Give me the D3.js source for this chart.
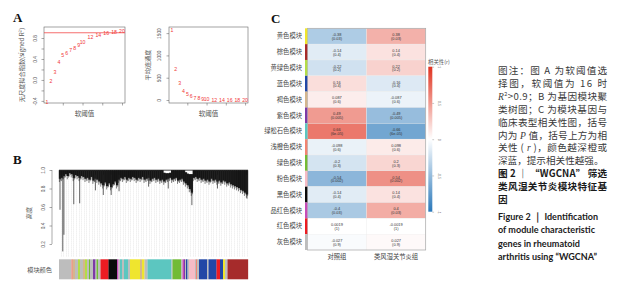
<!DOCTYPE html>
<html><head><meta charset="utf-8">
<script src="https://cdn.jsdelivr.net/npm/d3@7"></script>
<style>body{margin:0;background:#fff;} svg{display:block;}</style>
</head><body>
<svg id="c" width="619" height="300"></svg>
<script>
// ---------------- DATA ----------------
const powers = [1,2,3,4,5,6,7,8,9,10,12,14,16,18,20];
const scaleFreeFit = [-0.42,-0.02,0.15,0.34,0.48,0.52,0.56,0.60,0.66,0.72,0.82,0.86,0.90,0.92,0.94];
const meanConnectivity = [1570,700,388,210,134,80,50,33,23,16,8,5,3,2,1.5];
const fitThreshold = 0.9;
const powerTicks = [5,10,15,20];
const fitTicks = [-0.4,-0.2,0,0.2,0.4,0.6,0.8];
const fitTickLabels = [-0.4,0,0.4,0.8];
const connTicks = [0,500,1000,1500];
const heightTicks = [0.2,0.4,0.6,0.8,1.0];

// dendrogram: bottom height of the dense merge mass, left to right
const dendroMassBottom = [0.87,0.88,0.90,0.92,0.90,0.93,0.92,0.88,0.91,0.90,0.88,0.90,0.89,0.87,0.88,0.86,
  0.89,0.85,0.87,0.86,0.84,0.82,0.80,0.83,0.79,0.82,0.78,0.81,0.84,0.80,0.86,0.88,0.87,0.89,0.86,0.88,
  0.87,0.89,0.88,0.86,0.88,0.87,0.89,0.86,0.87,0.88,0.85,0.87,0.88,0.86,0.87,0.85,0.86,0.84,0.86,0.87,
  0.88,0.86,0.87,0.88,0.85,0.86,0.87,0.84,0.82,0.80,0.76,0.72,0.88,0.89,0.87,0.88,0.86,0.87,0.85,0.86,
  0.84,0.87,0.85,0.86,0.84,0.85,0.83,0.85,0.84,0.82,0.83,0.81,0.80,0.79,0.78,0.77,0.75,0.74,0.72,0.70];
const dendroMassTop = {53:0.97,54:0.965,55:0.965,56:0.97,64:0.975,65:0.96,66:0.955,67:0.955};
// long single branches: [leaf slot, lowest height]
const dendroSpikes = [[0,0.57],[1.4,0.12],[2,0.30],[7,0.63],[10,0.64],[18,0.78],[22,0.73],[26,0.73],
  [30,0.77],[45,0.82],[55,0.80],[67,0.62],[80,0.80],[95,0.69]];

// module colour bar below dendrogram: [module, number of leaves]
const moduleBar = [["grey",125],["salmon",12],["tan",23],["grey",30],["greenyellow",20],["grey",30],["tan",20],
  ["greenyellow",20],["grey",20],["green",10],["grey",30],["purple",25],["grey",10],["green",15],["grey",25],
  ["red",80],["black",85],["magenta",15],["grey",15],["turquoise",20],["grey",20],["turquoise",40],["grey",20],
  ["yellow",100],["tan",20],["yellow",25],["grey",30],["turquoise",240],["grey",10],["green",85],["grey",15],
  ["magenta",15],["purple",10],["grey",10],["blue",15],["grey",15],["pink",60],["grey",10],["salmon",10],
  ["grey",20],["blue",80],["grey",15],["blue",80],["red",35],["blue",30],["yellow",20],["grey",25],["brown",205]];

// module-trait heatmap
const moduleKeys = ["yellow","brown","greenyellow","blue","tan","purple","turquoise","salmon","green","pink","black","magenta","red","grey"];
const moduleNames = ["黄色模块","棕色模块","黄绿色模块","蓝色模块","褐色模块","紫色模块","绿松石色模块","浅橙色模块","绿色模块","粉色模块","黑色模块","品红色模块","红色模块","灰色模块"];
const traits = ["对照组","类风湿关节炎组"];
const corrControl = [-0.38,-0.14,-0.22,0.16,0.087,0.49,0.66,-0.098,-0.2,-0.54,-0.14,-0.4,0.0019,-0.027];
const corrRA      = [0.38,0.14,0.22,-0.16,-0.087,-0.49,-0.66,0.098,0.2,0.54,0.14,0.4,-0.0019,0.027];
const pValues = ["0.03","0.4","0.2","0.4","0.6","0.005","6e-05","0.6","0.3","0.002","0.4","0.03","1","0.9"];
const legendTicks = [-1,-0.5,0,0.5,1];

const moduleColor = {yellow:"#efe52e",brown:"#a62b2b",greenyellow:"#b3dd48",blue:"#2247a6",tan:"#d4b68e",
  purple:"#7d3aa6",turquoise:"#5cc6c0",salmon:"#f28472",green:"#72bb36",pink:"#f6bcc6",black:"#0a0a0a",
  magenta:"#c64cb8",red:"#ec1c22",grey:"#bdbdbd"};

// ---------------- DRAW ----------------
const svg = d3.select("#c");
const CJK = "'Noto Sans CJK SC', sans-serif";
const NUM = "'Liberation Sans', Arial, sans-serif";
const fmt = d => (d===0 ? "0.0" : d3.format(".1f")(d)).replace("−","-");

function panelLabel(t,x,y){
  svg.append("text").attr("x",x).attr("y",y).text(t)
    .attr("font-family","'Liberation Serif', serif").attr("font-weight","bold").attr("font-size",13).attr("fill","#111");
}
function rotLeftAxis(g, scale, ticks, labelFn, dist, fs){
  const ax = d3.axisLeft(scale).tickValues(ticks).tickSize(2.5).tickFormat(labelFn);
  g.call(ax);
  g.select(".domain").remove();
  g.selectAll(".tick line").attr("stroke","#555").attr("stroke-width",0.5);
  g.selectAll(".tick text").attr("transform","rotate(-90)").attr("x",0).attr("y",-dist).attr("dy",0)
    .attr("text-anchor","middle").attr("font-family",NUM).attr("font-size",fs).attr("fill","#555");
}

// ----- Panel A -----
panelLabel("A",13,22);
function thresholdPlot(x0,x1,yDomain,values,ticks,labelFn,labDist,ylab,ylabX,thr){
  const x = d3.scaleLinear().domain([0.24,20.76]).range([x0,x1]);
  const y = d3.scaleLinear().domain(yDomain).range([103,27]);
  const g = svg.append("g");
  g.append("rect").attr("x",x0).attr("y",27).attr("width",x1-x0).attr("height",76)
    .attr("fill","none").attr("stroke","#666").attr("stroke-width",0.6);
  const ya = g.append("g").attr("transform",`translate(${x0},0)`);
  rotLeftAxis(ya,y,ticks,labelFn,labDist,4.8);
  const xa = g.append("g").attr("transform","translate(0,103)")
    .call(d3.axisBottom(x).tickValues(powerTicks).tickSize(2.5).tickFormat(""));
  xa.select(".domain").remove();
  xa.selectAll(".tick line").attr("stroke","#555").attr("stroke-width",0.5);
  if (thr!==null){
    g.append("line").attr("x1",x0).attr("x2",x1).attr("y1",y(thr)).attr("y2",y(thr))
      .attr("stroke","#f03030").attr("stroke-width",0.7);
  }
  g.selectAll("text.pt").data(powers).join("text").attr("class","pt")
    .attr("x",(d)=>x(d)).attr("y",(d,i)=>y(values[i])+1.9).text(d=>d)
    .attr("text-anchor","middle").attr("font-family",NUM).attr("font-size",5.2).attr("fill","#f03838");
  g.append("text").attr("transform",`translate(${ylabX},65) rotate(-90)`).attr("text-anchor","middle")
    .text(ylab).attr("font-family",CJK).attr("font-size",6.2).attr("fill","#555");
  g.append("text").attr("x",(x0+x1)/2).attr("y",116).attr("text-anchor","middle")
    .text("软阈值").attr("font-family",CJK).attr("font-size",6.5).attr("fill","#555");
}
thresholdPlot(44,125,[-0.44,1.01],scaleFreeFit,fitTicks,d=>fitTickLabels.includes(d)?fmt(d):"",6.7,"无尺度拟合指数(signed R²)",24,fitThreshold);
thresholdPlot(169,248,[-67,1637],meanConnectivity,connTicks,d=>d,8.3,"平均连通度",150,null);

// ----- Panel B -----
panelLabel("B",13,164);
(function(){
  const y = d3.scaleLinear().domain([0.2,1.0]).range([244,170]);
  const xs = d3.scaleLinear().domain([0,dendroMassBottom.length-1]).range([60,247]);
  const g = svg.append("g");
  const ya = g.append("g").attr("transform","translate(52,0)");
  rotLeftAxis(ya,y,heightTicks,d=>d3.format(".1f")(d),7.4,4.8);
  g.append("line").attr("x1",52).attr("x2",52).attr("y1",y(0.2)).attr("y2",y(1.0)).attr("stroke","#555").attr("stroke-width",0.5);
  g.append("text").attr("transform",`translate(31,213) rotate(-90)`).attr("text-anchor","middle")
    .text("高度").attr("font-family",CJK).attr("font-size",6.2).attr("fill","#555");
  // guide lines
  const guides = d3.range(0,73);
  const gx = d3.scaleLinear().domain([0,72]).range([60.5,247]);
  g.selectAll("line.guide").data(guides).join("line").attr("class","guide")
    .attr("x1",d=>Math.round(gx(d))+0.5).attr("x2",d=>Math.round(gx(d))+0.5).attr("y1",y(0.95)).attr("y2",257)
    .attr("stroke","#dadada").attr("stroke-width",0.6).attr("stroke-dasharray","1,1");
  // top merge line
  g.append("line").attr("x1",59).attr("x2",248).attr("y1",y(0.998)).attr("y2",y(0.998)).attr("stroke","#222").attr("stroke-width",0.8);
  // dense mass
  dendroMassBottom.forEach((b,i)=>{
    const top = dendroMassTop[i] !== undefined ? dendroMassTop[i] : 0.998;
    g.append("line").attr("x1",xs(i)).attr("x2",xs(i)).attr("y1",y(top)).attr("y2",y(b+0.035))
      .attr("stroke","#111").attr("stroke-width",2.3);
    g.append("line").attr("x1",xs(i)-0.6).attr("x2",xs(i)-0.6).attr("y1",y(top)).attr("y2",y(b))
      .attr("stroke","#1a1a1a").attr("stroke-width",0.55);
    g.append("line").attr("x1",xs(i)+0.6).attr("x2",xs(i)+0.6).attr("y1",y(top)).attr("y2",y(b+0.018))
      .attr("stroke","#2a2a2a").attr("stroke-width",0.5);
  });
  g.selectAll("line.spike").data(dendroSpikes).join("line").attr("class","spike")
    .attr("x1",d=>xs(d[0])).attr("x2",d=>xs(d[0])).attr("y1",y(0.95)).attr("y2",d=>y(d[1]))
    .attr("stroke","#222").attr("stroke-width",0.7);
  // colour bar
  const total = d3.sum(moduleBar,d=>d[1]);
  const bx = d3.scaleLinear().domain([0,total]).range([59,248]);
  let acc = 0;
  const segs = moduleBar.map(d=>{const s={m:d[0],a:acc,b:acc+d[1]}; acc+=d[1]; return s;});
  g.selectAll("rect.mod").data(segs).join("rect").attr("class","mod")
    .attr("x",d=>bx(d.a)).attr("width",d=>bx(d.b)-bx(d.a)+0.15).attr("y",259.3).attr("height",20)
    .attr("fill",d=>moduleColor[d.m]);
  g.append("text").attr("x",52).attr("y",271.5).attr("text-anchor","end").text("模块颜色")
    .attr("font-family",CJK).attr("font-size",6.2).attr("fill","#555");
})();

// ----- Panel C -----
panelLabel("C",271,23);
(function(){
  const x = d3.scaleBand().domain(traits).range([307.3,425.7]);
  const y = d3.scaleBand().domain(moduleNames).range([28.3,250]);
  const col = d3.scaleLinear().domain([-1,0,1]).range(["#2a78ba","#ffffff","#e0321f"]);
  const g = svg.append("g");
  const cells = [];
  moduleNames.forEach((m,i)=>{
    cells.push({m,t:traits[0],r:corrControl[i],p:pValues[i]});
    cells.push({m,t:traits[1],r:corrRA[i],p:pValues[i]});
  });
  g.selectAll("rect.cell").data(cells).join("rect").attr("class","cell")
    .attr("x",d=>x(d.t)).attr("y",d=>y(d.m)).attr("width",x.bandwidth()).attr("height",y.bandwidth())
    .attr("fill",d=>col(d.r)).attr("stroke","#ececec").attr("stroke-width",0.35);
  g.append("rect").attr("x",307.3).attr("y",28.3).attr("width",118.4).attr("height",221.7)
    .attr("fill","none").attr("stroke","#a8a8a8").attr("stroke-width",0.7);
  g.selectAll("text.r").data(cells).join("text").attr("class","r")
    .attr("x",d=>x(d.t)+x.bandwidth()/2).attr("y",d=>y(d.m)+y.bandwidth()/2-0.2)
    .attr("text-anchor","middle").text(d=>d.r).attr("font-family",NUM).attr("font-size",3.9).attr("fill","#333");
  g.selectAll("text.p").data(cells).join("text").attr("class","p")
    .attr("x",d=>x(d.t)+x.bandwidth()/2).attr("y",d=>y(d.m)+y.bandwidth()/2+3.6)
    .attr("text-anchor","middle").text(d=>"("+d.p+")").attr("font-family",NUM).attr("font-size",3.9).attr("fill","#333");
  // module strip
  g.selectAll("rect.strip").data(moduleNames).join("rect").attr("class","strip")
    .attr("x",305).attr("width",2.3).attr("y",d=>y(d)).attr("height",y.bandwidth())
    .attr("fill",(d,i)=>moduleColor[moduleKeys[i]]);
  g.selectAll("text.row").data(moduleNames).join("text").attr("class","row")
    .attr("x",302).attr("y",d=>y(d)+y.bandwidth()/2+2.2).attr("text-anchor","end").text(d=>d)
    .attr("font-family",CJK).attr("font-size",6.3).attr("fill","#444");
  g.selectAll("text.col").data(traits).join("text").attr("class","col")
    .attr("x",d=>x(d)+x.bandwidth()/2).attr("y",259).attr("text-anchor","middle").text(d=>d)
    .attr("font-family",CJK).attr("font-size",6.3).attr("fill","#444");
  // legend
  const ly = d3.scaleLinear().domain([-1,1]).range([211.7,66.7]);
  const defs = svg.append("defs");
  const lg = defs.append("linearGradient").attr("id","lg").attr("x1",0).attr("x2",0).attr("y1",1).attr("y2",0);
  legendTicks.forEach(v=>{ lg.append("stop").attr("offset",(v+1)/2).attr("stop-color",col(v)); });
  g.append("rect").attr("x",428.3).attr("y",66.7).attr("width",4).attr("height",145).attr("fill","url(#lg)");
  const la = g.append("g").attr("transform","translate(432.3,0)")
    .call(d3.axisRight(ly).tickValues(legendTicks).tickSize(1.8).tickFormat(d=>d));
  la.select(".domain").remove();
  la.selectAll(".tick line").attr("stroke","#777").attr("stroke-width",0.4);
  la.selectAll(".tick text").attr("transform","rotate(90)").attr("x",0).attr("y",-5.5).attr("dy",0)
    .attr("text-anchor","middle").attr("font-family",NUM).attr("font-size",3.6).attr("fill","#666");
  const lt = g.append("text").attr("x",428).attr("y",63.5).attr("font-family",CJK).attr("font-size",5.4).attr("fill","#555");
  lt.append("tspan").text("相关性(");
  lt.append("tspan").text("r").attr("font-style","italic").attr("font-family","'Liberation Serif', serif");
  lt.append("tspan").text(")");
})();

// ----- Caption -----
(function(){
  const X = 498, W = 109;
  const lines = [
    {y:74.2, parts:[["图注：图 A 为软阈值选"]], just:true},
    {y:86.8, parts:[["择图，软阈值为 16 时"]], just:true},
    {y:99.5, parts:[["R","i"],["2","sup"],[">0.9；B 为基因模块聚","down"]], just:true},
    {y:112.8, parts:[["类树图；C 为模块基因与"]], just:true},
    {y:125.8, parts:[["临床表型相关性图，括号"]], just:true},
    {y:138.5, parts:[["内为 "],["P","i"],[" 值，括号上方为相"]], just:true},
    {y:151.2, parts:[["关性 ( "],["r","i"],[" )，颜色越深橙或"]], just:true},
    {y:164.2, parts:[["深蓝，提示相关性越强。"]], just:false},
    {y:176.8, parts:[["图 2 ｜ “WGCNA” 筛选"]], just:true, bold:true},
    {y:189.5, parts:[["类风湿关节炎模块特征基"]], just:true, bold:true},
    {y:202.5, parts:[["因"]], just:false, bold:true}
  ];
  lines.forEach(L=>{
    const t = svg.append("text").attr("x",X).attr("y",L.y).attr("font-family",CJK).attr("font-size",9.6)
      .attr("fill",L.bold?"#1a1a1a":"#3a3a3a").attr("font-weight",L.bold?"bold":"normal");
    if (L.just) t.attr("textLength",W).attr("lengthAdjust","spacing");
    L.parts.forEach(p=>{
      const s = t.append("tspan").text(p[0]);
      if (p[1]==="i") s.attr("font-style","italic").attr("font-family","'Liberation Serif', serif");
      if (p[1]==="sup") s.attr("font-size",5.5).attr("dy",-3.5);
      if (p[1]==="down") s.attr("dy",3.5);
    });
  });
  const en = [
    {y:220.2, s:"Figure 2 ｜ Identification", w:100},
    {y:233.4, s:"of module characteristic", w:97},
    {y:246.6, s:"genes in rheumatoid", w:82},
    {y:259.6, s:"arthritis using “WGCNA”", w:99}
  ];
  en.forEach(L=>{
    svg.append("text").attr("x",X).attr("y",L.y).text(L.s).attr("font-family","Lato, 'Open Sans', sans-serif")
      .attr("font-weight","bold").attr("font-size",9.6).attr("fill","#1a1a1a")
      .attr("textLength",L.w).attr("lengthAdjust","spacingAndGlyphs");
  });
})();
</script>
</body></html>
